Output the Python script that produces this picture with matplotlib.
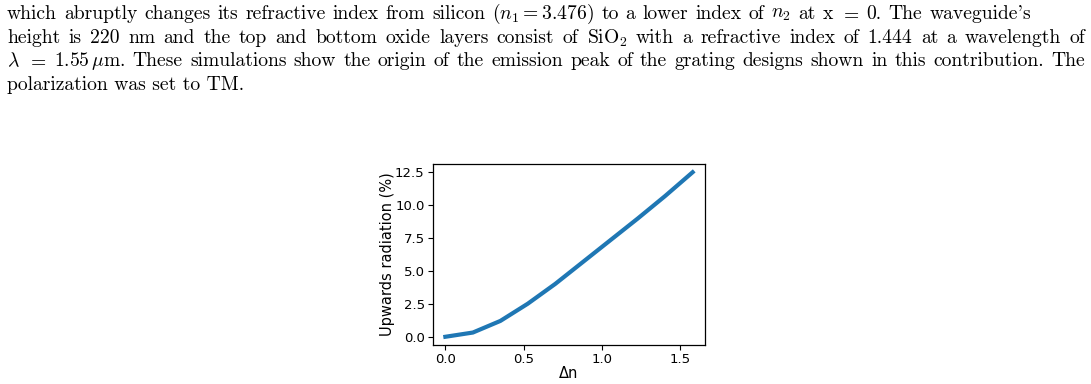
import matplotlib
matplotlib.use("Agg")
import matplotlib.pyplot as plt

delta_n = [0.0, 0.176, 0.352, 0.527, 0.703, 0.879, 1.055, 1.231, 1.406, 1.582]
upwards = [0.0, 0.32, 1.2, 2.5, 4.0, 5.65, 7.3, 8.95, 10.65, 12.45]
x_ticks = [0.0, 0.5, 1.0, 1.5]
y_ticks = [0.0, 2.5, 5.0, 7.5, 10.0, 12.5]

text_lines = [
    r"which abruptly changes its refractive index from silicon ($n_1 = 3.476$) to a lower index of $n_2$ at x $=$ 0. The waveguide's",
    r"height is 220 nm and the top and bottom oxide layers consist of SiO$_2$ with a refractive index of 1.444 at a wavelength of",
    r"$\lambda$ $=$ 1.55$\,\mathrm{\mu m}$. These simulations show the origin of the emission peak of the grating designs shown in this contribution. The",
    r"polarization was set to TM.",
]
line_right = [1031, 1085, 1085, None]
line_y = [14, 38, 61, 85]


def split_words(s):
    words, cur, in_math = [], "", False
    for ch in s:
        if ch == "$":
            in_math = not in_math
        if ch == " " and not in_math:
            if cur:
                words.append(cur)
            cur = ""
        else:
            cur += ch
    if cur:
        words.append(cur)
    return words


plt.rcParams['mathtext.fontset'] = 'cm'
W, H = 1091, 384
fig = plt.figure(figsize=(W / 100, H / 100), dpi=100)
renderer = fig.canvas.get_renderer()

for txt, yy, right in zip(text_lines, line_y, line_right):
    kw = dict(family='cmr10', fontsize=14.1, va='center', ha='left')
    if right is None:
        fig.text(7 / W, 1 - yy / H, txt, **kw)
        continue
    words = split_words(txt)
    items = [fig.text(0, 1 - yy / H, w, **kw) for w in words]
    widths = [it.get_window_extent(renderer).width for it in items]
    gap = (right - 7 - sum(widths)) / (len(words) - 1)
    x = 7.0
    for it, wd in zip(items, widths):
        it.set_x(x / W)
        x += wd + gap

ax = fig.add_axes([433 / W, 1 - 345 / H, (705 - 433) / W, (345 - 164) / H])
ax.plot(delta_n, upwards, color='#1f77b4', linewidth=3.0)
ax.set_xticks(x_ticks)
ax.set_yticks(y_ticks)
ax.set_xticklabels([f"{v:.1f}" for v in x_ticks])
ax.set_yticklabels([f"{v:.1f}" for v in y_ticks])
ax.tick_params(labelsize=9.5, length=3.5, width=0.8, pad=2.5)
for s in ax.spines.values():
    s.set_linewidth(0.9)
ax.set_xlabel("Δn", fontsize=10.5, labelpad=0)
ax.set_ylabel("Upwards radiation (%)", fontsize=10.5, labelpad=0)

fig.savefig("out.png", dpi=100)
